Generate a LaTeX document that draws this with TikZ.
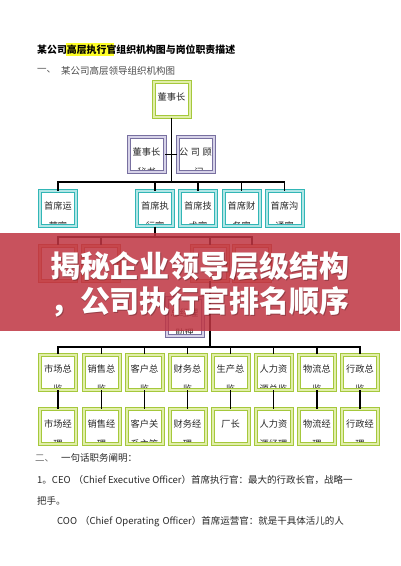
\documentclass[tikz,border=0pt]{standalone}
\usepackage{fontspec}
\setmainfont{Noto Sans CJK SC}
\definecolor{gline}{RGB}{165,200,60}
\definecolor{gfill}{RGB}{225,238,170}
\definecolor{pline}{RGB}{120,112,160}
\definecolor{pfill}{RGB}{214,210,232}
\definecolor{tline}{RGB}{50,182,182}
\definecolor{tfill}{RGB}{178,230,230}
\definecolor{rline}{RGB}{205,110,60}
\definecolor{rfill}{RGB}{238,175,135}
\definecolor{bannerc}{RGB}{192,54,67}
\definecolor{hl}{RGB}{255,255,40}
\definecolor{bodytxt}{RGB}{40,40,40}
\tikzset{
  bx/.style={rectangle, minimum width=36pt, minimum height=35pt, line width=1pt,
    double distance=2pt, fill=white, inner sep=0pt},
  gbox/.style={bx, draw=gline, double=gfill},
  pbox/.style={bx, draw=pline, double=pfill},
  tbox/.style={bx, draw=tline, double=tfill},
  rbox/.style={bx, draw=rline, double=rfill},
  txt/.style={font=\fontsize{9.2}{9.2}\selectfont, inner sep=0pt, text=black!85},
  two/.style 2 args={path picture={
     \node[txt,anchor=base] at ([yshift=-18pt]path picture bounding box.north) {#1};
     \node[txt,anchor=base] at ([yshift=-38pt]path picture bounding box.north) {#2};}},
  conn/.style={draw=black, line width=1.3pt},
  body/.style={anchor=west, inner sep=0pt, font=\fontsize{9.5}{9.5}\selectfont, text=bodytxt}
}
\begin{document}
\begin{tikzpicture}[x=1pt,y=-1pt]
\useasboundingbox (0,0) rectangle (400,566);
\fill[white] (0,0) rectangle (400,566);

% titles
\fill[hl] (66,43) rectangle (114,56);
\node[body, font=\fontsize{9.9}{9.9}\selectfont\bfseries, text=black] (t1) at (37,50) {某公司高层执行官组织机构图与岗位职责描述};
\node[body, text=black!65] (t2a) at (37,71) {一、};
\node[body, text=black!70] (t2b) at (61,71) {某公司高层领导组织机构图};

% level 1-2
\node[gbox, two={董事长}{}] (dsz) at (171.5,99.5) {};
\node[pbox, two={董事长}{秘书}] (ms) at (146.5,154.5) {};
\node[pbox, path picture={
   \node[txt,anchor=base] at ([yshift=-18pt]path picture bounding box.north) {公\hspace{2.5pt}司\hspace{2.5pt}顾};
   \node[txt,anchor=base west] at ([xshift=3pt,yshift=-38pt]path picture bounding box.north west) {问};}] (gw) at (195.5,154.5) {};

% level 3
\node[tbox, two={首席运}{营官}] (c1) at (58,208.5) {};
\node[tbox, two={首席执}{行官}] (c2) at (155,208.5) {};
\node[tbox, two={首席技}{术官}] (c3) at (198,208.5) {};
\node[tbox, two={首席财}{务官}] (c4) at (241.5,208.5) {};
\node[tbox, two={首席沟}{通官}] (c5) at (284.5,208.5) {};

% level 4 (under banner)
\node[rbox] (r1) at (58,263) {};
\node[rbox] (r2) at (101,263) {};
\node[rbox] (r3) at (210,263) {};
\node[rbox] (r4) at (252,263) {};
\node[pbox, minimum height=38pt, two={总经理}{助理}] (zj) at (184.5,317) {};

% level 5
\node[gbox, two={市场总}{监}] (m1) at (58,372) {};
\node[gbox, two={销售总}{监}] (m2) at (101.5,372) {};
\node[gbox, two={客户总}{监}] (m3) at (144.5,372) {};
\node[gbox, two={财务总}{监}] (m4) at (187.5,372) {};
\node[gbox, two={生产总}{监}] (m5) at (230.5,372) {};
\node[gbox, two={人力资}{源总监}] (m6) at (273.5,372) {};
\node[gbox, two={物流总}{监}] (m7) at (317,372) {};
\node[gbox, two={行政总}{监}] (m8) at (360,372) {};

% level 6
\node[gbox, two={市场经}{理}] (n1) at (58,426.5) {};
\node[gbox, two={销售经}{理}] (n2) at (101.5,426.5) {};
\node[gbox, two={客户关}{系主管}] (n3) at (144.5,426.5) {};
\node[gbox, two={财务经}{理}] (n4) at (187.5,426.5) {};
\node[gbox, two={厂长}{}] (n5) at (230.5,426.5) {};
\node[gbox, two={人力资}{源经理}] (n6) at (273.5,426.5) {};
\node[gbox, two={物流经}{理}] (n7) at (317,426.5) {};
\node[gbox, two={行政经}{理}] (n8) at (360,426.5) {};

% connectors
\coordinate (j1) at (171.5,182);
\coordinate (j2) at (155,237);
\coordinate (j3) at (210,347);
\draw[conn] (dsz.south) -- (j1);
\draw[conn] (ms.east) -- (gw.west);
\foreach \n in {c1,c2,c3,c4,c5} \draw[conn] (j1) -| (\n.north);
\draw[conn] (c2.south) -- (j2);
\foreach \n in {r1,r2,r3,r4} \draw[conn] (j2) -| (\n.north);
\draw[conn] (r3.south) -- (j3);
\foreach \n in {m1,m2,m3,m4,m5,m6,m7,m8} \draw[conn] (j3) -| (\n.north);
\foreach \i in {1,...,8} \draw[conn] (m\i.south) -- (n\i.north);

% banner
\fill[bannerc, opacity=0.86] (0,233) rectangle (400,331);
\node[font=\fontsize{30}{30}\selectfont\bfseries, text=black, opacity=0.25, inner sep=0pt] (bs1) at (201,267) {揭秘企业领导层级结构};
\node[font=\fontsize{30}{30}\selectfont\bfseries, text=black, opacity=0.25, inner sep=0pt] (bs2) at (201,303) {，公司执行官排名顺序};
\node[font=\fontsize{30}{30}\selectfont\bfseries, text=white, inner sep=0pt] (b1) at (200,266) {揭秘企业领导层级结构};
\node[font=\fontsize{30}{30}\selectfont\bfseries, text=white, inner sep=0pt] (b2) at (200,302) {，公司执行官排名顺序};

% bottom text
\node[body, text=black!55] (s2a) at (35,458) {二、};
\node[body] (s2b) at (61,458) {一句话职务阐明：};
\node[body] (l1) at (37,480) {1。CEO\hspace{3pt}（Chief Executive Officer）首席执行官：最大的行政长官，战略一};
\node[body] (l2) at (37,501) {把手。};
\node[body] (l3) at (57,522) {COO\hspace{3pt}（Chief\hspace{3pt}Operating\hspace{3pt}Officer）首席运营官：就是干具体活儿的人};
\end{tikzpicture}
\end{document}
